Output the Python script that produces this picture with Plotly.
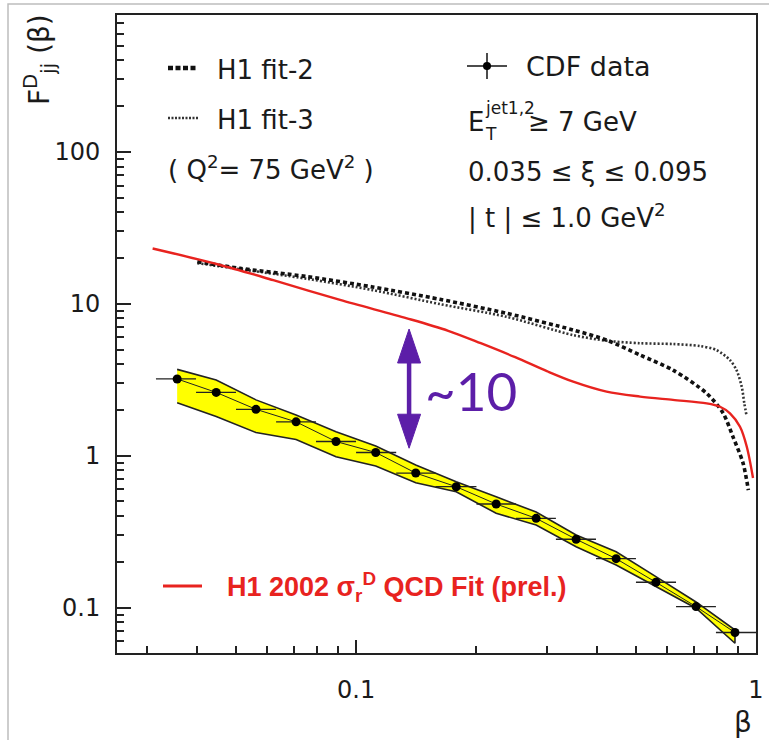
import plotly.graph_objects as go
from math import log10

# ---- CDF diffractive dijet data: beta bins and F_jj^D(beta) ----
beta = [0.0357, 0.0447, 0.0562, 0.0708, 0.0891, 0.112, 0.141, 0.178,
        0.224, 0.282, 0.355, 0.447, 0.562, 0.708, 0.886]
beta_lo = [0.0316, 0.0398, 0.0501, 0.0631, 0.0794, 0.100, 0.126, 0.158,
           0.200, 0.251, 0.316, 0.398, 0.501, 0.631, 0.794]
beta_hi = [0.0398, 0.0501, 0.0631, 0.0794, 0.100, 0.126, 0.158, 0.200,
           0.251, 0.316, 0.398, 0.501, 0.631, 0.794, 1.000]
F_cdf = [3.20, 2.61, 2.02, 1.67, 1.24, 1.05, 0.769, 0.625,
         0.481, 0.387, 0.282, 0.210, 0.147, 0.1016, 0.0686]
# systematic uncertainty band
band_hi = [3.70, 3.15, 2.33, 1.85, 1.44, 1.16, 0.869, 0.675,
           0.537, 0.426, 0.301, 0.233, 0.160, 0.109, 0.0713]
band_lo = [2.23, 1.81, 1.42, 1.28, 0.985, 0.855, 0.664, 0.579,
           0.418, 0.350, 0.252, 0.191, 0.137, 0.0991, 0.0583]

# ---- H1 2002 sigma_r^D QCD fit (prel.) ----
beta_h1 = [0.0310, 0.0450, 0.0621, 0.0912, 0.134, 0.170, 0.205, 0.250, 0.300,
           0.349, 0.423, 0.513, 0.620, 0.753, 0.813, 0.861, 0.912, 0.948, 0.983]
F_h1 = [23.1, 18.2, 14.3, 10.6, 8.02, 6.64, 5.50, 4.45, 3.60,
        3.07, 2.64, 2.45, 2.33, 2.21, 2.10, 1.90, 1.55, 1.15, 0.713]

# ---- H1 fit-2 ----
beta_f2 = [0.0401, 0.0513, 0.0753, 0.110, 0.162, 0.238, 0.349, 0.423,
           0.513, 0.620, 0.753, 0.827, 0.876, 0.928, 0.957]
F_f2 = [18.9, 17.1, 15.1, 12.9, 10.7, 8.65, 6.72, 5.77,
        4.60, 3.66, 2.57, 1.91, 1.33, 0.895, 0.594]

# ---- H1 fit-3 ----
beta_f3 = [0.0401, 0.0753, 0.110, 0.162, 0.238, 0.349, 0.423, 0.513,
           0.620, 0.724, 0.796, 0.861, 0.894, 0.921, 0.935, 0.948]
F_f3 = [18.5, 14.6, 12.3, 9.95, 8.20, 6.22, 5.71, 5.50,
        5.43, 5.27, 4.96, 4.26, 3.66, 2.85, 2.21, 1.81]

# data-to-fit ratio arrow: beta position and F range
arrow_beta = 0.1357
arrow_F = [1.12, 6.82]

y_ticks = [0.1, 1, 10, 100]
y_ticktext = ["0.1", "1", "10", "100"]
x_ticks = [0.1, 1]
x_ticktext = ["0.1", "1"]

# ---- figure geometry ----
W, H = 769, 740
L, R, T, B = 117, 756, 15, 653
XR = [log10(0.02525), 0.0]
YR = [log10(0.0503), log10(795.0)]

FONT = "DejaVu Sans"
RED = "#e8231f"
PURPLE = "#5c1ea8"


def page(xpx, ypx):
    """page pixel -> paper fraction"""
    return (xpx - L) / (R - L), (B - ypx) / (B - T)


def dpx(b):
    return (log10(b) - XR[0]) / (XR[1] - XR[0])


def dpy(f):
    return (log10(f) - YR[0]) / (YR[1] - YR[0])


fig = go.Figure()

# yellow uncertainty band
fig.add_trace(go.Scatter(
    x=beta + beta[::-1], y=band_hi + band_lo[::-1],
    fill="toself", fillcolor="#ffff00",
    line=dict(color="#222222", width=1.6),
    mode="lines", hoverinfo="skip", showlegend=False))

# H1 fit-3 (dotted)
fig.add_trace(go.Scatter(
    x=beta_f3, y=F_f3, mode="lines",
    line=dict(color="#333333", width=2.6, dash="2px,2px", shape="spline", smoothing=0.8),
    showlegend=False))

# H1 fit-2 (dashed)
fig.add_trace(go.Scatter(
    x=beta_f2, y=F_f2, mode="lines",
    line=dict(color="#111111", width=3.6, dash="4px,3px", shape="spline", smoothing=0.8),
    showlegend=False))

# H1 2002 QCD fit
fig.add_trace(go.Scatter(
    x=beta_h1, y=F_h1, mode="lines",
    line=dict(color=RED, width=2.4, shape="spline", smoothing=0.9),
    showlegend=False))

# CDF data points
fig.add_trace(go.Scatter(
    x=beta, y=F_cdf, mode="lines+markers",
    line=dict(color="#222222", width=1),
    marker=dict(color="black", size=9),
    error_x=dict(type="data", symmetric=False,
                 array=[h - b for h, b in zip(beta_hi, beta)],
                 arrayminus=[b - l for b, l in zip(beta, beta_lo)],
                 color="#222222", thickness=1.3, width=0),
    showlegend=False))

shapes = []
# light page border
shapes.append(dict(type="rect", xref="paper", yref="paper",
                   x0=page(8, 0)[0], x1=page(790, 0)[0],
                   y0=page(0, 4)[1], y1=page(0, 760)[1],
                   line=dict(color="#bdbdbd", width=1.5), layer="below"))

# double-headed arrow
ax = dpx(arrow_beta)
y_bot, y_top = dpy(arrow_F[0]), dpy(arrow_F[1])
head_len = 34 / (B - T)
head_half = 11.5 / (R - L)
shapes.append(dict(type="line", xref="paper", yref="paper",
                   x0=ax, x1=ax, y0=y_bot + head_len * 0.9, y1=y_top - head_len * 0.9,
                   line=dict(color=PURPLE, width=4.5)))
shapes.append(dict(type="path", xref="paper", yref="paper",
                   path=f"M {ax},{y_top} L {ax - head_half},{y_top - head_len} "
                        f"L {ax + head_half},{y_top - head_len} Z",
                   fillcolor=PURPLE, line=dict(color=PURPLE, width=1)))
shapes.append(dict(type="path", xref="paper", yref="paper",
                   path=f"M {ax},{y_bot} L {ax - head_half},{y_bot + head_len} "
                        f"L {ax + head_half},{y_bot + head_len} Z",
                   fillcolor=PURPLE, line=dict(color=PURPLE, width=1)))

# legend samples
def hline(x0, x1, y, **line):
    a, yy = page(x0, y)
    b, _ = page(x1, y)
    shapes.append(dict(type="line", xref="paper", yref="paper",
                       x0=a, x1=b, y0=yy, y1=yy, line=line))

hline(168, 198, 68, color="#111111", width=4.5, dash="5px,2.5px")
hline(168, 199, 118, color="#333333", width=2.5, dash="2px,1.5px")
hline(467, 507, 66, color="#111111", width=1.5)
vx, vy0 = page(487, 53)
_, vy1 = page(487, 79)
shapes.append(dict(type="line", xref="paper", yref="paper",
                   x0=vx, x1=vx, y0=vy0, y1=vy1, line=dict(color="#111111", width=1.5)))
cx, cy = page(487, 66)
rx, ry = 4 / (R - L), 4 / (B - T)
shapes.append(dict(type="circle", xref="paper", yref="paper",
                   x0=cx - rx, x1=cx + rx, y0=cy - ry, y1=cy + ry,
                   fillcolor="black", line=dict(color="black", width=0)))
hline(163, 202, 586, color=RED, width=3)

annotations = []


def text(s, xpx, ypx, size=26, color="#1a1a1a", xanchor="left", yanchor="middle", family=FONT, **kw):
    x, y = page(xpx, ypx)
    annotations.append(dict(text=s, x=x, y=y, xref="paper", yref="paper",
                            xanchor=xanchor, yanchor=yanchor, showarrow=False,
                            font=dict(family=family, size=size, color=color), **kw))


text("H1 fit-2", 215, 70)
text("H1 fit-3", 215, 120)
text("( Q<sup>2</sup>= 75 GeV<sup>2</sup> )", 166, 168)
text("CDF data", 524, 67, size=27)
text("E", 466, 122)
text("jet1,2", 483, 108, size=17)
text("T", 483, 134, size=17)
text("≥ 7 GeV", 526, 122)
text("0.035 ≤ ξ ≤ 0.095", 466, 172)
text("| t | ≤ 1.0 GeV<sup>2</sup>", 466, 216)
text("<b>H1 2002 σ<sub>r</sub><sup>D</sup> QCD Fit (prel.)</b>", 225, 587,
     size=27, color=RED, family="Liberation Sans")
text("~10", 423, 390, size=53, color=PURPLE, family="Lato")
text("β", 743, 722, size=28, xanchor="center")
text("F<sup>D</sup><sub>jj</sub> (β)", 40, 60, size=28, xanchor="center", textangle=-90)

axis_common = dict(
    type="log", showgrid=False, zeroline=False, automargin=False,
    showline=True, linecolor="#222222", linewidth=2, mirror=True,
    ticks="inside", tickcolor="#222222", tickwidth=1.5,
    tickfont=dict(family=FONT, size=24, color="#1a1a1a"),
    minor=dict(ticks="inside", ticklen=7, tickcolor="#222222", tickwidth=1.5,
               dtick="D1", showgrid=False),
)

fig.update_xaxes(**axis_common, range=XR, tickvals=x_ticks, ticktext=x_ticktext,
                 ticklen=13, ticklabelstandoff=14)
fig.update_yaxes(**axis_common, range=YR, tickvals=y_ticks, ticktext=y_ticktext,
                 ticklen=14, ticklabelstandoff=10)

fig.update_layout(
    width=W, height=H,
    margin=dict(l=L, r=W - R, t=T, b=H - B, autoexpand=False),
    paper_bgcolor="white", plot_bgcolor="white",
    shapes=shapes, annotations=annotations,
    showlegend=False,
)

fig.write_html("out.html")
